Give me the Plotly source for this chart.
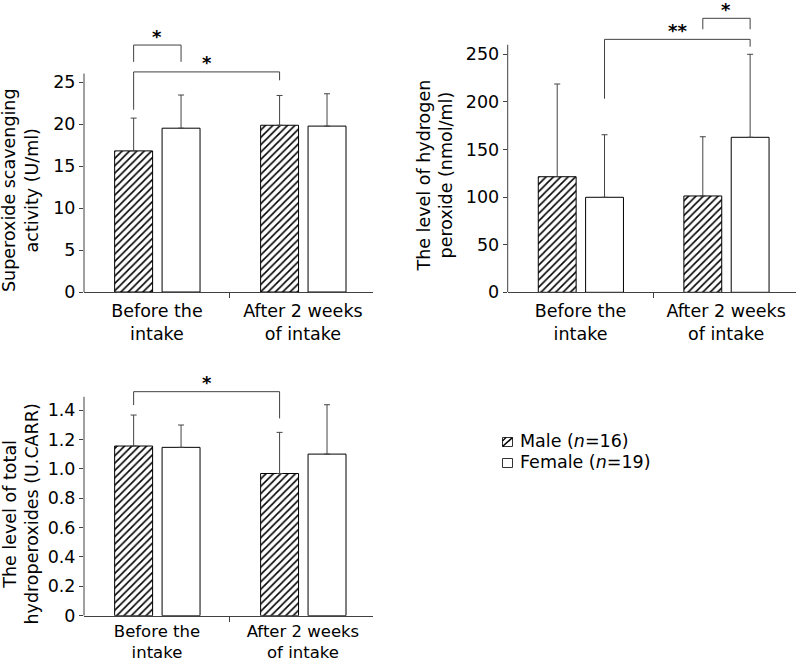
import plotly.graph_objects as go

# ---------------- data ----------------
categories = ["Before the<br>intake", "After 2 weeks<br>of intake"]
cat_pos = [0, 1]

# Panel A: superoxide scavenging activity (U/ml)
sod_male = [16.8, 19.85]
sod_male_sd = [3.9, 3.55]
sod_female = [19.5, 19.75]
sod_female_sd = [3.95, 3.85]
sod_ticks = [0, 5, 10, 15, 20, 25]
sod_ticktext = ["0", "5", "10", "15", "20", "25"]

# Panel B: hydrogen peroxide (nmol/ml)
h2o2_male = [121.4, 101.2]
h2o2_male_sd = [97.4, 62.2]
h2o2_female = [99.8, 162.8]
h2o2_female_sd = [65.7, 87.2]
h2o2_ticks = [0, 50, 100, 150, 200, 250]
h2o2_ticktext = ["0", "50", "100", "150", "200", "250"]

# Panel C: total hydroperoxides (U.CARR)
hp_male = [1.155, 0.968]
hp_male_sd = [0.211, 0.28]
hp_female = [1.146, 1.10]
hp_female_sd = [0.152, 0.336]
hp_ticks = [0, 0.2, 0.4, 0.6, 0.8, 1.0, 1.2, 1.4]
hp_ticktext = ["0", "0.2", "0.4", "0.6", "0.8", "1.0", "1.2", "1.4"]

male_name = "Male (<i>n</i>=16)"
female_name = "Female (<i>n</i>=19)"

# significance brackets: (panel, (grp, cat) left, (grp, cat) right, top, left leg end, right leg end, label)
brackets = [
    (1, ("m", 0), ("f", 0), 29.4, 27.4, 27.4, "*"),
    (1, ("m", 0), ("m", 1), 26.2, 21.7, 25.2, "*"),
    (2, ("f", 0), ("f", 1), 265.7, 203.4, 258.0, "**"),
    (2, ("m", 1), ("f", 1), 287.8, 276.3, 276.3, "*"),
    (3, ("m", 0), ("m", 1), 1.525, 1.434, 1.343, "*"),
]

# ---------------- style ----------------
FONT = "DejaVu Sans"
FS = 17.5
AX = "#404040"
BAR_W = 0.26
OFF_M = -0.29
OFF_F = 0.035
XR = [-0.5, 1.48]
W, H = 798, 662


def bar_center(grp, cat):
    off = OFF_M if grp == "m" else OFF_F
    return cat_pos[cat] + off + BAR_W / 2


panels = [
    dict(male=sod_male, msd=sod_male_sd, female=sod_female, fsd=sod_female_sd,
         ticks=sod_ticks, ticktext=sod_ticktext, yr=[0, 31.5], ytop=26,
         xd=[84 / W, 373 / W], yd=[1 - 292 / H, 1 - (292 - 31.5 * 8.4) / H],
         xfs=FS, xstand=3,
         title="Superoxide scavenging<br>activity (U/ml)", tx=21, ty=190),
    dict(male=h2o2_male, msd=h2o2_male_sd, female=h2o2_female, fsd=h2o2_female_sd,
         ticks=h2o2_ticks, ticktext=h2o2_ticktext, yr=[0, 305], ytop=260,
         xd=[507.7 / W, 796 / W], yd=[1 - 292.3 / H, 1 - (292.3 - 305 * 0.952) / H],
         xfs=FS, xstand=3,
         title="The level of hydrogen<br>peroxide (nmol/ml)", tx=435, ty=175.5),
    dict(male=hp_male, msd=hp_male_sd, female=hp_female, fsd=hp_female_sd,
         ticks=hp_ticks, ticktext=hp_ticktext, yr=[0, 1.68], ytop=1.49,
         xd=[84 / W, 373 / W], yd=[1 - 615.7 / H, 1 - (615.7 - 1.68 * 146.9) / H],
         xfs=16.5, xstand=0,
         title="The level of total<br>hydroperoxides (U.CARR)", tx=20.5, ty=514),
]

male_marker = dict(color="white", line=dict(color="black", width=1),
                   pattern=dict(shape="/", fgcolor="black", bgcolor="white", size=5.2, solidity=0.3))
female_marker = dict(color="white", line=dict(color="black", width=1))

fig = go.Figure()
shapes = []
annotations = []
layout_axes = {}

for i, p in enumerate(panels, start=1):
    xa = "x" if i == 1 else f"x{i}"
    ya = "y" if i == 1 else f"y{i}"
    fig.add_trace(go.Bar(
        x=cat_pos, y=p["male"], xaxis=xa, yaxis=ya,
        width=BAR_W, offset=OFF_M, name=male_name, showlegend=False,
        marker=male_marker,
        error_y=dict(type="data", array=p["msd"], arrayminus=[0, 0], symmetric=False,
                     color="#444444", thickness=1, width=3),
    ))
    fig.add_trace(go.Bar(
        x=cat_pos, y=p["female"], xaxis=xa, yaxis=ya,
        width=BAR_W, offset=OFF_F, name=female_name, showlegend=False,
        marker=female_marker,
        error_y=dict(type="data", array=p["fsd"], arrayminus=[0, 0], symmetric=False,
                     color="#444444", thickness=1, width=3),
    ))
    xk = "xaxis" if i == 1 else f"xaxis{i}"
    yk = "yaxis" if i == 1 else f"yaxis{i}"
    layout_axes[xk] = dict(
        domain=p["xd"], range=XR, anchor=ya, tickmode="array", tickvals=cat_pos, ticktext=categories,
        ticks="", showline=True, linecolor=AX, linewidth=1, showgrid=False, zeroline=False,
        automargin=False,
        tickfont=dict(family=FONT, size=p["xfs"], color="black"), fixedrange=True,
        ticklabelstandoff=p["xstand"],
        minor=dict(tickmode="array", tickvals=[0.5], ticks="outside", ticklen=5, tickcolor=AX, tickwidth=1),
    )
    layout_axes[yk] = dict(
        domain=p["yd"], range=p["yr"], anchor=xa, tickmode="array", tickvals=p["ticks"], ticktext=p["ticktext"],
        ticks="outside", ticklen=4, tickcolor=AX, tickwidth=1, showline=False, showgrid=False,
        zeroline=False, automargin=False,
        tickfont=dict(family=FONT, size=FS, color="black"), fixedrange=True,
    )
    # y axis line (stops at ytop)
    shapes.append(dict(type="line", xref=f"{xa} domain", yref=ya, x0=0, x1=0, y0=0, y1=p["ytop"],
                       line=dict(color=AX, width=1)))
    # axis title
    annotations.append(dict(text=p["title"], textangle=-90, xref="paper", yref="paper",
                            x=p["tx"] / W, y=1 - p["ty"] / H, xanchor="center", yanchor="middle",
                            showarrow=False, font=dict(family=FONT, size=FS, color="black")))

for (pi, left, right, top, yl, yr_, label) in brackets:
    xa = "x" if pi == 1 else f"x{pi}"
    ya = "y" if pi == 1 else f"y{pi}"
    x0 = bar_center(*left)
    x1 = bar_center(*right)
    path = f"M {x0},{yl} L {x0},{top} L {x1},{top} L {x1},{yr_}"
    shapes.append(dict(type="path", path=path, xref=xa, yref=ya, line=dict(color=AX, width=1)))
    annotations.append(dict(text=f"<b>{label}</b>", xref=xa, yref=ya, x=(x0 + x1) / 2, y=top,
                            xanchor="center", yanchor="middle", yshift=9, showarrow=False,
                            font=dict(family=FONT, size=18, color="black")))

# ---------------- legend (drawn) ----------------
legend_items = [(male_name, True, 442), (female_name, False, 463)]
for name, hatched, cy in legend_items:
    x0, x1 = 502.5 / W, 512.5 / W
    y0, y1 = 1 - (cy + 4.5) / H, 1 - (cy - 4.5) / H
    shapes.append(dict(type="rect", xref="paper", yref="paper", x0=x0, x1=x1, y0=y0, y1=y1,
                       line=dict(color="#333333", width=1), fillcolor="white"))
    if hatched:
        shapes.append(dict(type="line", xref="paper", yref="paper", x0=x0, y0=y0, x1=x1, y1=y1,
                           line=dict(color="black", width=1.6)))
        shapes.append(dict(type="line", xref="paper", yref="paper", x0=x0, y0=1 - (cy - 1) / H,
                           x1=(502.5 + 3.5) / W, y1=y1, line=dict(color="black", width=1.2)))
    annotations.append(dict(text=name, xref="paper", yref="paper", x=518 / W, y=1 - (cy - 1.5) / H,
                            xanchor="left", yanchor="middle", showarrow=False,
                            font=dict(family=FONT, size=FS, color="black")))

fig.update_layout(
    template="none",
    width=W, height=H, margin=dict(l=0, r=0, t=0, b=0, autoexpand=False),
    paper_bgcolor="white", plot_bgcolor="white",
    barmode="overlay",
    shapes=shapes, annotations=annotations,
    showlegend=False,
    font=dict(family=FONT, size=FS, color="black"),
    **layout_axes,
)

fig.write_html("out.html", config={"displayModeBar": False},
               post_script="document.body.style.margin='0';")
